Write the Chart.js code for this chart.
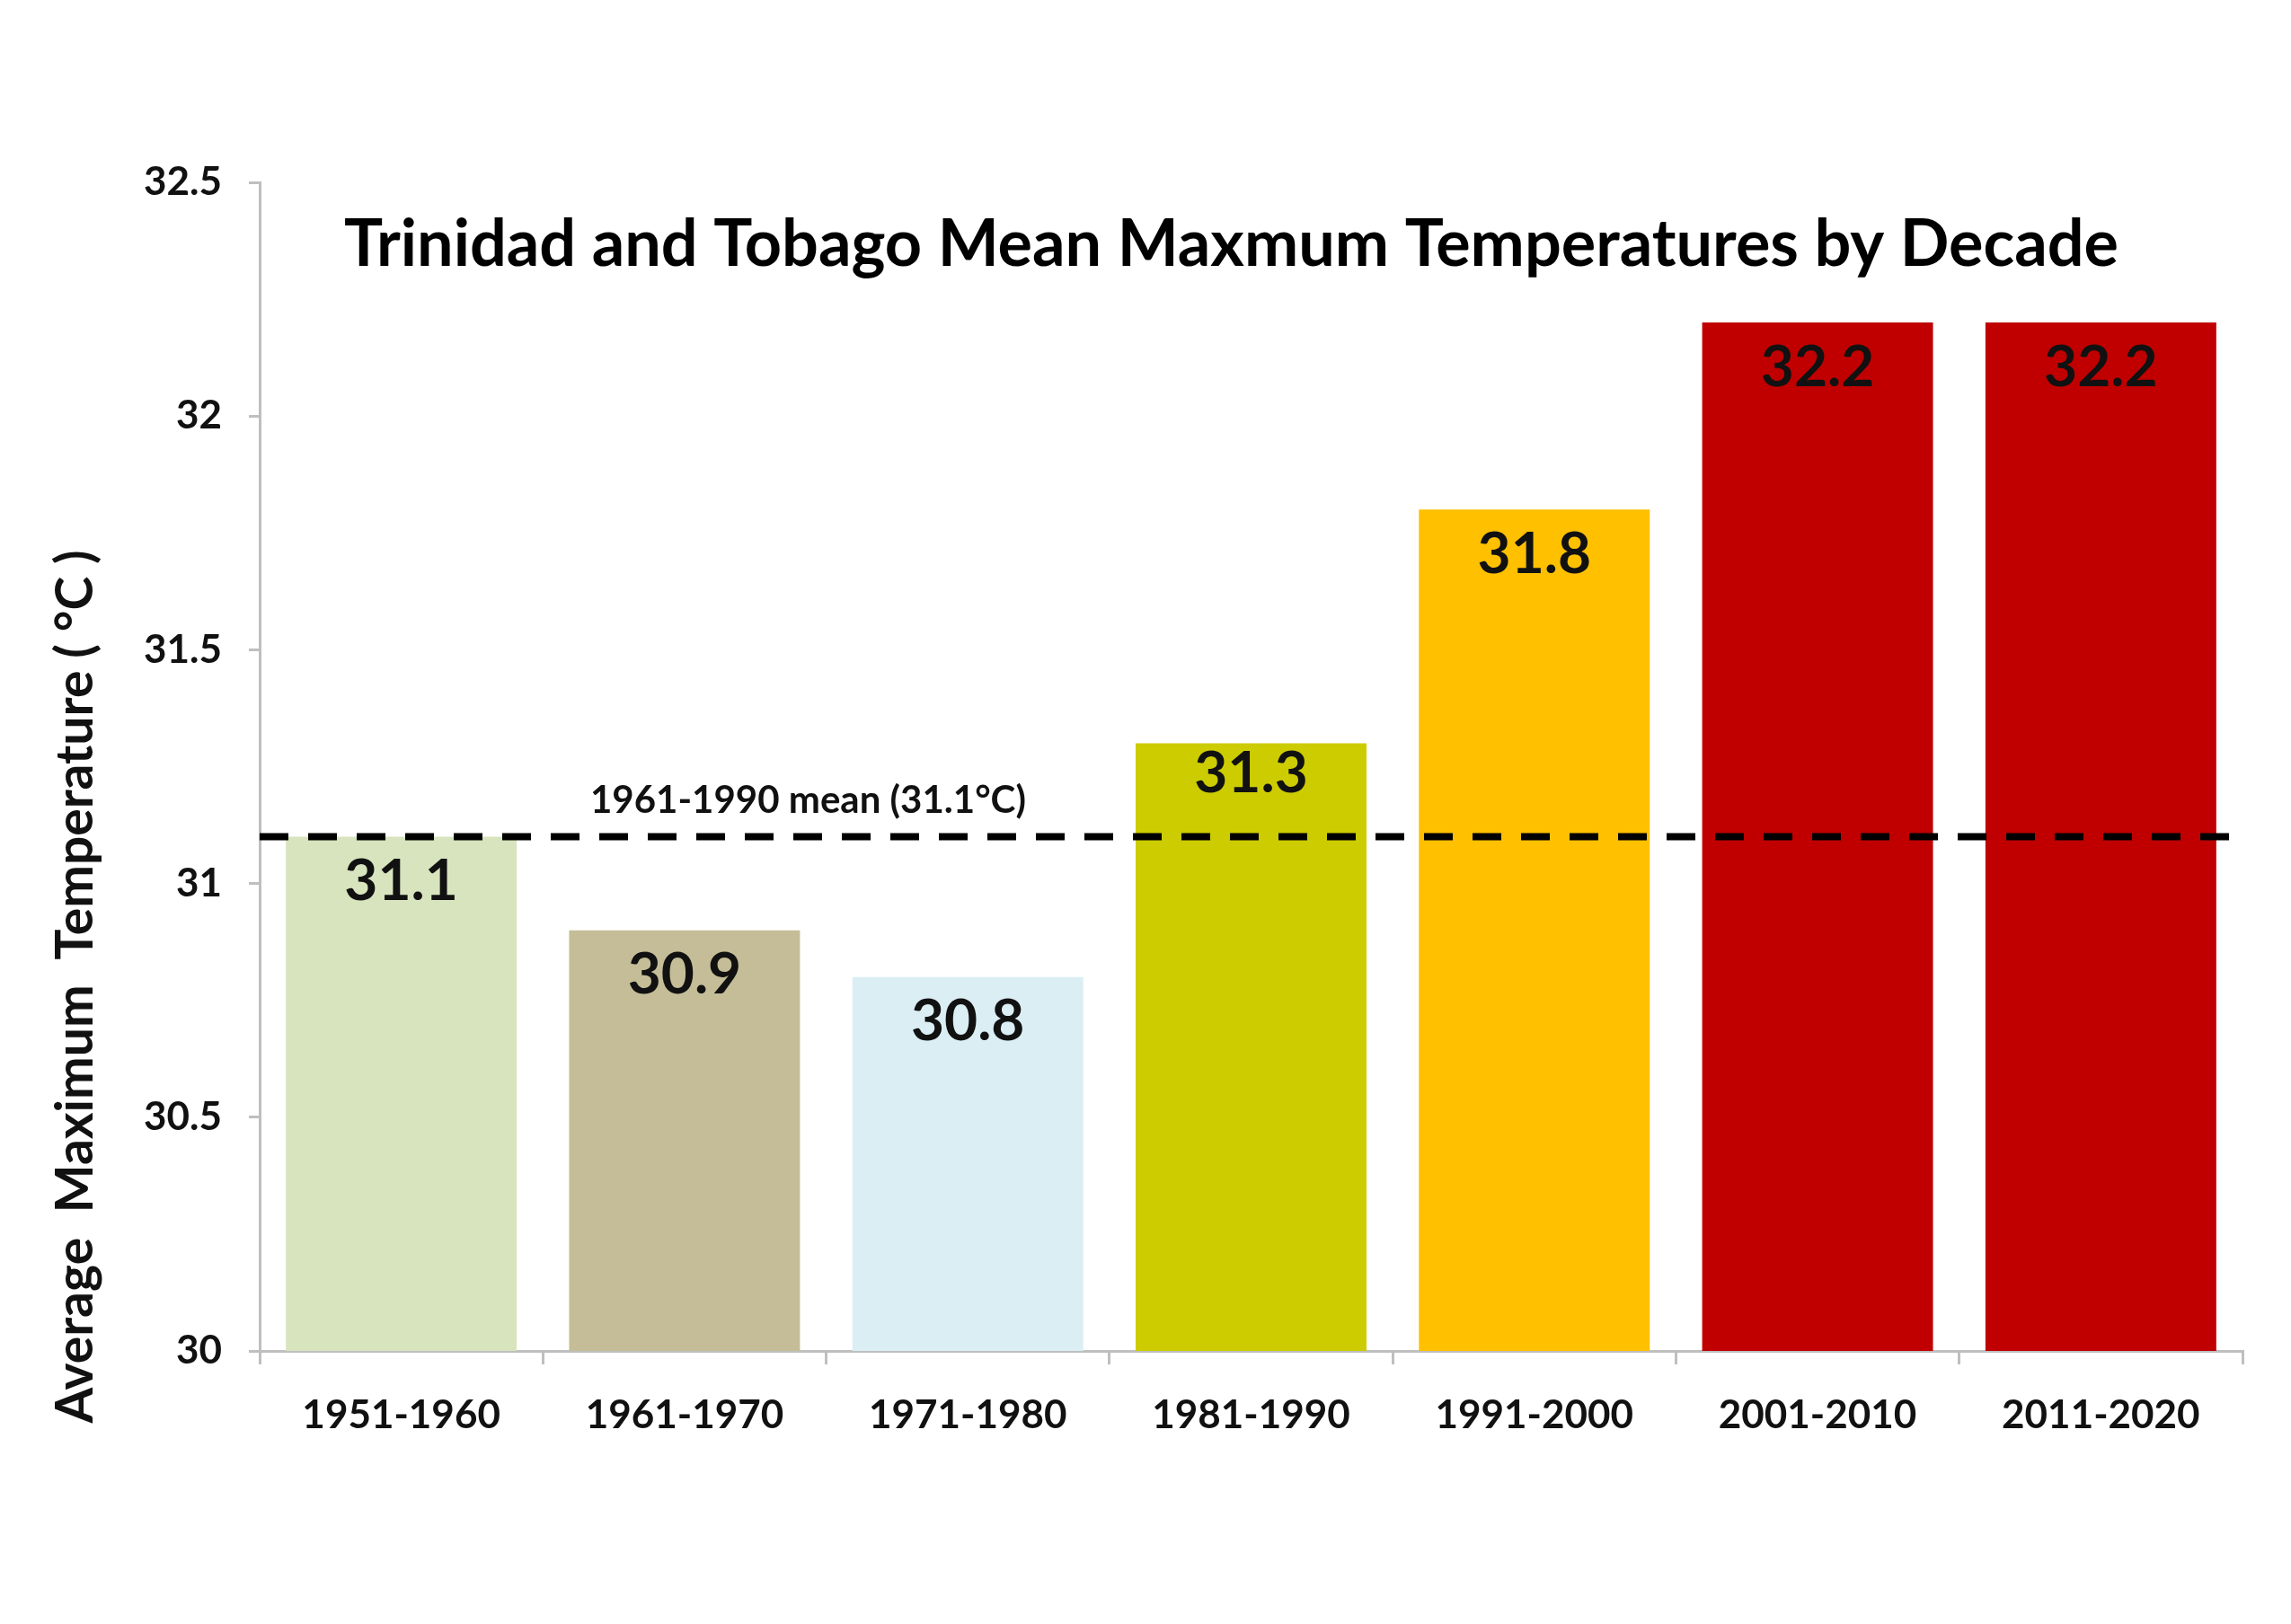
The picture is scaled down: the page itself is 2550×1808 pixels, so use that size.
<!DOCTYPE html>
<html>
<head>
<meta charset="utf-8">
<script src="https://cdn.jsdelivr.net/npm/chart.js@4.4.1/dist/chart.umd.min.js"></script>
<style>
    html, body { margin: 0; padding: 0; background: #ffffff; }
    #wrap { width: 2550px; height: 1808px; }
</style>
</head>
<body>
<div id="wrap"><canvas id="tempChart" width="2550" height="1808"></canvas></div>
<script>
const decades = ['1951-1960', '1961-1970', '1971-1980', '1981-1990', '1991-2000', '2001-2010', '2011-2020'];
const maxTemps = [31.1, 30.9, 30.8, 31.3, 31.8, 32.2, 32.2];
const barColors = ['#D7E4BD', '#C4BD97', '#DBEEF4', '#CCCC00', '#FFC000', '#C00000', '#C00000'];
const baselineMean = 31.1;
const baselineLabel = '1961-1990 mean (31.1°C)';
const chartTitle = 'Trinidad and Tobago Mean Maxmum Temperatures by Decade';
const yTitle = 'Average  Maximum  Temperature ( °C )';

const FONT = 'Lato, "Open Sans", sans-serif';

// draws the title, the mean line, its label, the bar values and the y title
const overlayPlugin = {
    id: 'overlay',
    afterDatasetsDraw(chart) {
        const ctx = chart.ctx;
        const area = chart.chartArea;
        const yScale = chart.scales.y;

        // dashed mean line
        const yMean = yScale.getPixelForValue(baselineMean);
        ctx.save();
        ctx.strokeStyle = '#000000';
        ctx.lineWidth = 8;
        ctx.setLineDash([32, 22]);
        ctx.beginPath();
        ctx.moveTo(area.left, yMean);
        ctx.lineTo(area.right, yMean);
        ctx.stroke();
        ctx.restore();

        // label above the mean line
        ctx.save();
        ctx.fillStyle = '#111111';
        ctx.font = 'bold 42px ' + FONT;
        ctx.textAlign = 'left';
        ctx.textBaseline = 'middle';
        ctx.fillText(baselineLabel, area.left + 368, yMean - 40);
        ctx.restore();

        // values inside the bars
        const meta = chart.getDatasetMeta(0);
        ctx.save();
        ctx.fillStyle = '#111111';
        ctx.font = 'bold 64px ' + FONT;
        ctx.textAlign = 'center';
        ctx.textBaseline = 'middle';
        meta.data.forEach((bar, i) => {
            // the 31.3 label sits a little higher, clear of the dashed line
            const drop = maxTemps[i] === 31.3 ? 34 : 50;
            ctx.fillText(maxTemps[i].toFixed(1), bar.x, bar.y + drop);
        });
        ctx.restore();

        // chart title inside plot
        ctx.save();
        ctx.fillStyle = '#000000';
        ctx.font = 'bold 72px ' + FONT;
        ctx.textAlign = 'center';
        ctx.textBaseline = 'middle';
        ctx.fillText(chartTitle, (area.left + area.right) / 2 - 22, area.top + 70);
        ctx.restore();

        // y axis title
        ctx.save();
        ctx.fillStyle = '#111111';
        ctx.font = 'bold 57px ' + FONT;
        ctx.textAlign = 'center';
        ctx.textBaseline = 'middle';
        ctx.translate(85, (area.top + area.bottom) / 2 + 245);
        ctx.rotate(-Math.PI / 2);
        ctx.fillText(yTitle, 0, 0);
        ctx.restore();
    }
};

const ctx = document.getElementById('tempChart').getContext('2d');
const tempChart = new Chart(ctx, {
    type: 'bar',
    data: {
        labels: decades,
        datasets: [{
            data: maxTemps,
            backgroundColor: barColors,
            borderWidth: 0,
            categoryPercentage: 1.0,
            barPercentage: 0.815
        }]
    },
    options: {
        responsive: false,
        animation: false,
        layout: {
            padding: { left: 20, right: 54, top: 203, bottom: 0 }
        },
        plugins: {
            legend: { display: false },
            tooltip: { enabled: false },
            title: { display: false }
        },
        scales: {
            x: {
                afterFit: function(scale) { scale.height = 304; },
                grid: {
                    display: true,
                    drawOnChartArea: false,
                    offset: true,
                    tickLength: 15,
                    color: '#BFBFBF',
                    lineWidth: 3
                },
                border: { color: '#BFBFBF', width: 3 },
                ticks: {
                    color: '#111111',
                    padding: 30,
                    font: { family: FONT, size: 44, weight: 'bold' }
                }
            },
            y: {
                min: 30,
                max: 32.5,
                afterFit: function(scale) { scale.width = 269; },
                grid: {
                    display: true,
                    drawOnChartArea: false,
                    tickLength: 12,
                    color: '#BFBFBF',
                    lineWidth: 3
                },
                border: { color: '#BFBFBF', width: 3 },
                ticks: {
                    stepSize: 0.5,
                    color: '#111111',
                    padding: 30,
                    font: { family: FONT, size: 44, weight: 'bold' },
                    callback: function(value) { return String(Number(value)); }
                }
            }
        }
    },
    plugins: [overlayPlugin]
});
</script>
</body>
</html>
